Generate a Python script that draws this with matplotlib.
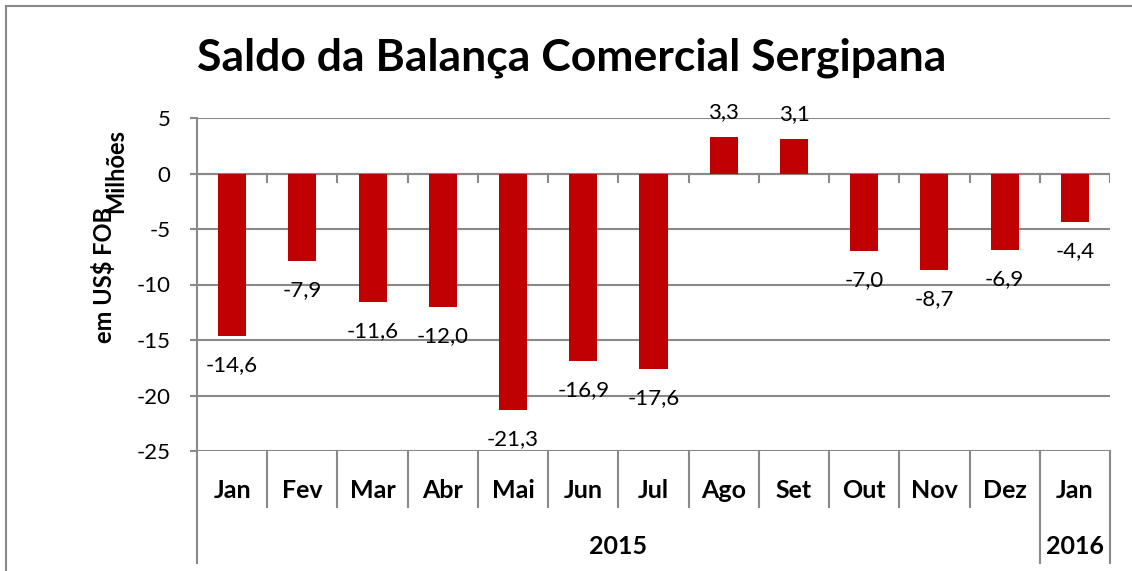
import numpy as np
import matplotlib.pyplot as plt
import matplotlib.transforms as mtransforms
from matplotlib.patches import Rectangle

plt.rcParams['font.family'] = ['Lato', 'DejaVu Sans']

# dados
meses = ['Jan', 'Fev', 'Mar', 'Abr', 'Mai', 'Jun', 'Jul', 'Ago', 'Set', 'Out', 'Nov', 'Dez', 'Jan']
saldo = [-14.6, -7.9, -11.6, -12.0, -21.3, -16.9, -17.6, 3.3, 3.1, -7.0, -8.7, -6.9, -4.4]
anos = ['2015', '2016']
meses_por_ano = [12, 1]
yticks = [5, 0, -5, -10, -15, -20, -25]

cinza = '#898989'
vermelho = '#C00000'

fig = plt.figure(figsize=(11.32, 5.71), dpi=100)
W, H = 1132, 571

# moldura do grafico
fig.patches.append(Rectangle((6 / W, -0.1), 1.2, 1 - 6 / H + 0.1, transform=fig.transFigure,
                             fill=False, edgecolor=cinza, linewidth=1.5))

ax = fig.add_axes([197 / W, 1 - 451 / H, (1110 - 197) / W, (451 - 118) / H])
x = np.arange(len(meses))
ax.bar(x, saldo, width=0.4, color=vermelho, zorder=3)

ax.set_xlim(-0.5, len(meses) - 0.5)
ax.set_ylim(-25, 5)
ax.set_yticks(yticks)
ax.set_yticklabels([str(v) for v in yticks], fontsize=16)
ax.tick_params(axis='y', length=5, width=1.5, color=cinza, pad=14)
ax.set_xticks([])
ax.grid(axis='y', color=cinza, linewidth=1.5, zorder=0)
for s in ['top', 'right', 'bottom']:
    ax.spines[s].set_visible(False)
ax.spines['left'].set_color(cinza)
ax.spines['left'].set_linewidth(1.5)
ax.spines['left'].set_bounds(-25, 5)

# eixo no zero com marcas
ax.axhline(0, color=cinza, linewidth=1.5, zorder=2)
for b in np.arange(0.5, len(meses), 1.0):
    ax.plot([b, b], [0, -0.8], color=cinza, linewidth=1.5, zorder=2)

# rotulos de dados
for xi, v in zip(x, saldo):
    txt = f'{v:.1f}'.replace('.', ',')
    if v >= 0:
        ax.annotate(txt, (xi, v), xytext=(0, 18), textcoords='offset points',
                    ha='center', va='center', fontsize=16)
    else:
        ax.annotate(txt, (xi, v), xytext=(0, -21), textcoords='offset points',
                    ha='center', va='center', fontsize=16, annotation_clip=False)

# eixo de categorias em dois niveis
tr = mtransforms.blended_transform_factory(ax.transData, ax.transAxes)
h_mes = -(507 - 451) / (451 - 118)
h_ano = -(563 - 451) / (451 - 118)
ax.plot([-0.5, -0.5], [0, h_ano], transform=tr, color=cinza, linewidth=1.5, clip_on=False)
for b in np.arange(0.5, len(meses) - 1, 1.0):
    ax.plot([b, b], [0, h_mes], transform=tr, color=cinza, linewidth=1.5, clip_on=False)
for i, m in enumerate(meses):
    ax.text(i, -(490 - 451) / (451 - 118), m, transform=tr, ha='center', va='center',
            fontsize=18, fontweight='bold')
ini = -0.5
for ano, n in zip(anos, meses_por_ano):
    fim = ini + n
    ax.plot([fim, fim], [0, h_ano], transform=tr, color=cinza, linewidth=1.5, clip_on=False)
    ax.text((ini + fim) / 2, -(546 - 451) / (451 - 118), ano, transform=tr,
            ha='center', va='center', fontsize=18, fontweight='bold')
    ini = fim

# titulo e eixo y
fig.text(572 / W, 1 - 58 / H, 'Saldo da Balança Comercial Sergipana', ha='center', va='center',
         fontsize=32, fontweight='bold')
fig.text(104 / W, 1 - 275 / H, 'em US$ FOB', rotation=90, ha='center', va='center',
         fontsize=17, fontweight='bold')
fig.text(116 / W, 1 - 171 / H, 'Milhões', rotation=90, ha='center', va='center',
         fontsize=17, fontweight='bold')

fig.savefig('out.png', dpi=100)
